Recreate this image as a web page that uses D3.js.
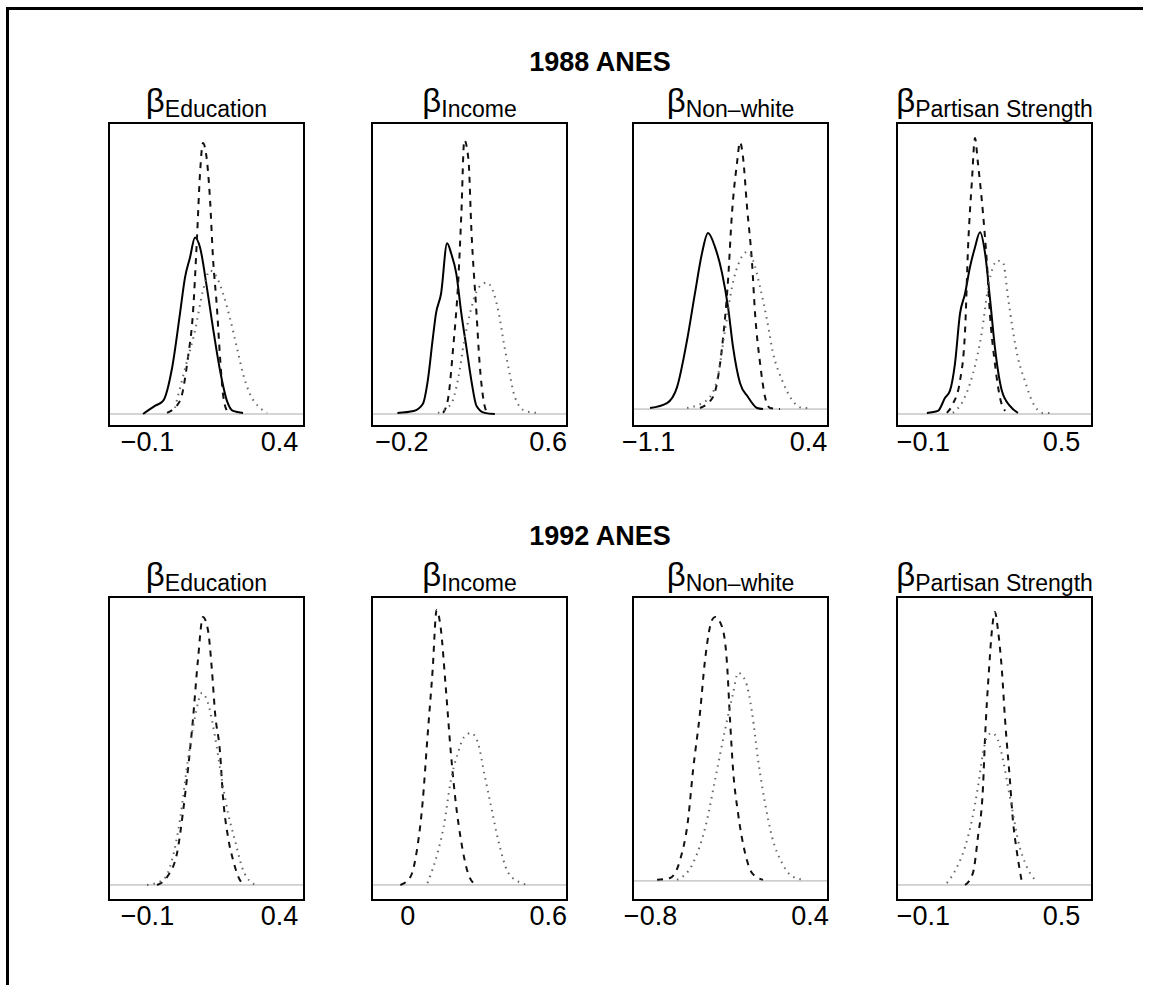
<!DOCTYPE html>
<html>
<head>
<meta charset="utf-8">
<script src="https://cdn.jsdelivr.net/npm/d3@7"></script>
<style>
  body { margin: 0; background: #fff; }
  svg text { font-family: "Liberation Sans", Arial, Helvetica, sans-serif; fill: #000; }
</style>
</head>
<body>
<svg id="chart" width="1154" height="985"></svg>
<script>
// Survey headings and coefficient names.
var surveys = ["1988 ANES", "1992 ANES"];
var coefficients = ["Education", "Income", "Non\u2013white", "Partisan Strength"];

// Axis labels and x limits, row by row (1988 then 1992).
var tickValues = [[-0.1, 0.4], [-0.2, 0.6], [-1.1, 0.4], [-0.1, 0.5],
                  [-0.1, 0.4], [0, 0.6], [-0.8, 0.4], [-0.1, 0.5]];
var xLimits = [[-0.244, 0.495], [-0.361, 0.706], [-1.241, 0.587], [-0.213, 0.635],
               [-0.244, 0.495], [-0.151, 0.682], [-0.928, 0.539], [-0.213, 0.635]];
// Lower y limit (density is scaled so each panel's upper limit is 1).
var yFloors = [0, 0, -0.018, 0, -0.011, -0.011, -0.026, -0.011];

// Posterior densities, [beta, density].
var edu88Solid = [[-0.115, 0], [-0.070, 0.029], [-0.039, 0.047], [-0.005, 0.165], [0.025, 0.360],
  [0.044, 0.489], [0.063, 0.561], [0.082, 0.633], [0.101, 0.597], [0.127, 0.453], [0.150, 0.309],
  [0.177, 0.155], [0.203, 0.047], [0.226, 0.011], [0.264, 0.004]];
var edu88Dashed = [[-0.024, 0.004], [0.025, 0.047], [0.055, 0.201], [0.074, 0.360], [0.089, 0.622],
  [0.101, 0.863], [0.112, 0.971], [0.127, 0.910], [0.139, 0.766], [0.150, 0.561], [0.165, 0.381],
  [0.177, 0.201], [0.188, 0.072], [0.203, 0.011]];
var edu88Dotted = [[0.006, 0.022], [0.052, 0.191], [0.082, 0.299], [0.112, 0.442], [0.139, 0.514],
  [0.165, 0.489], [0.188, 0.432], [0.214, 0.345], [0.241, 0.237], [0.264, 0.144], [0.290, 0.072],
  [0.328, 0.022], [0.355, 0.004]];

var inc88Solid = [[-0.222, 0.004], [-0.133, 0.011], [-0.083, 0.036], [-0.056, 0.119], [-0.028, 0.273],
  [-0.011, 0.360], [0.017, 0.432], [0.050, 0.612], [0.072, 0.576], [0.100, 0.504], [0.128, 0.360],
  [0.156, 0.237], [0.183, 0.119], [0.211, 0.029], [0.256, 0.004], [0.311, 0]];
var inc88Dashed = [[0.028, 0.004], [0.056, 0.058], [0.083, 0.237], [0.111, 0.478], [0.128, 0.719],
  [0.144, 0.982], [0.167, 0.910], [0.183, 0.658], [0.211, 0.360], [0.228, 0.180], [0.250, 0.047],
  [0.267, 0.004]];
var inc88Dotted = [[0.000, 0.004], [0.072, 0.036], [0.111, 0.129], [0.144, 0.263], [0.183, 0.381],
  [0.222, 0.453], [0.267, 0.471], [0.306, 0.432], [0.333, 0.360], [0.361, 0.252], [0.389, 0.155],
  [0.422, 0.058], [0.478, 0.011], [0.544, 0.004]];

var nw88Solid = [[-1.081, 0.004], [-0.922, 0.022], [-0.828, 0.080], [-0.734, 0.252], [-0.660, 0.423],
  [-0.594, 0.569], [-0.538, 0.642], [-0.472, 0.591], [-0.406, 0.496], [-0.350, 0.372], [-0.303, 0.226],
  [-0.238, 0.095], [-0.163, 0.044], [-0.078, 0.004], [-0.022, 0]];
var nw88Dashed = [[-0.613, 0.004], [-0.491, 0.044], [-0.406, 0.226], [-0.350, 0.471], [-0.313, 0.715],
  [-0.266, 0.898], [-0.238, 0.974], [-0.210, 0.920], [-0.172, 0.737], [-0.125, 0.533], [-0.097, 0.350],
  [-0.050, 0.168], [-0.003, 0.044], [0.043, 0.004], [0.137, 0]];
var nw88Dotted = [[-0.734, 0.004], [-0.547, 0.033], [-0.453, 0.106], [-0.378, 0.288], [-0.313, 0.445],
  [-0.238, 0.543], [-0.172, 0.573], [-0.116, 0.543], [-0.050, 0.445], [0.015, 0.325], [0.072, 0.204],
  [0.156, 0.106], [0.250, 0.033], [0.353, 0.004], [0.437, 0.004]];

var ps88Solid = [[-0.083, 0.004], [-0.035, 0.011], [-0.004, 0.058], [0.017, 0.083], [0.039, 0.180],
  [0.061, 0.360], [0.083, 0.432], [0.104, 0.525], [0.126, 0.597], [0.148, 0.651], [0.170, 0.576],
  [0.191, 0.417], [0.213, 0.237], [0.243, 0.083], [0.278, 0.029], [0.313, 0.004]];
var ps88Dashed = [[0.004, 0.004], [0.030, 0.036], [0.061, 0.119], [0.083, 0.299], [0.096, 0.597],
  [0.113, 0.838], [0.126, 0.989], [0.139, 0.899], [0.161, 0.719], [0.178, 0.540], [0.191, 0.360],
  [0.213, 0.180], [0.235, 0.058], [0.257, 0.011]];
var ps88Dotted = [[0.030, 0.004], [0.074, 0.047], [0.117, 0.144], [0.157, 0.299], [0.183, 0.453],
  [0.204, 0.525], [0.222, 0.550], [0.248, 0.543], [0.270, 0.417], [0.291, 0.299], [0.313, 0.201],
  [0.343, 0.119], [0.374, 0.047], [0.422, 0.004], [0.465, 0.004]];

var edu92Dashed = [[-0.062, 0], [-0.024, 0.029], [0.014, 0.116], [0.036, 0.261], [0.055, 0.417],
  [0.074, 0.598], [0.093, 0.815], [0.112, 0.971], [0.131, 0.924], [0.146, 0.779], [0.158, 0.623],
  [0.177, 0.478], [0.188, 0.319], [0.207, 0.174], [0.226, 0.091], [0.252, 0.018], [0.264, 0.004]];
var edu92Dotted = [[-0.100, 0], [-0.039, 0.018], [-0.005, 0.091], [0.025, 0.236], [0.055, 0.453],
  [0.082, 0.609], [0.108, 0.696], [0.131, 0.659], [0.158, 0.536], [0.184, 0.380], [0.207, 0.261],
  [0.233, 0.163], [0.260, 0.065], [0.298, 0.007], [0.317, 0]];

var inc92Dashed = [[-0.030, 0], [0.013, 0.029], [0.043, 0.138], [0.065, 0.297], [0.086, 0.536],
  [0.108, 0.779], [0.125, 0.996], [0.142, 0.935], [0.164, 0.717], [0.186, 0.478], [0.207, 0.297],
  [0.229, 0.163], [0.259, 0.043], [0.285, 0.004]];
var inc92Dotted = [[0.086, 0.007], [0.129, 0.116], [0.155, 0.210], [0.186, 0.380], [0.216, 0.478],
  [0.242, 0.536], [0.272, 0.551], [0.302, 0.514], [0.328, 0.406], [0.358, 0.283], [0.388, 0.163],
  [0.432, 0.043], [0.488, 0.007], [0.518, 0]];

var nw92Dashed = [[-0.747, 0.004], [-0.650, 0.011], [-0.574, 0.077], [-0.514, 0.224], [-0.476, 0.408],
  [-0.424, 0.618], [-0.386, 0.813], [-0.333, 0.960], [-0.311, 0.971], [-0.258, 0.934], [-0.221, 0.801],
  [-0.198, 0.592], [-0.175, 0.408], [-0.138, 0.250], [-0.085, 0.103], [-0.032, 0.029], [0.050, 0.004]];
var nw92Dotted = [[-0.597, 0.004], [-0.476, 0.066], [-0.371, 0.224], [-0.311, 0.371], [-0.236, 0.555],
  [-0.175, 0.691], [-0.138, 0.765], [-0.085, 0.739], [-0.032, 0.618], [0.013, 0.445], [0.065, 0.287],
  [0.118, 0.162], [0.193, 0.066], [0.276, 0.015], [0.366, 0.004]];

var ps92Dashed = [[0.083, 0], [0.117, 0.043], [0.139, 0.174], [0.161, 0.355], [0.170, 0.536],
  [0.187, 0.779], [0.200, 0.924], [0.213, 0.989], [0.226, 0.924], [0.243, 0.779], [0.257, 0.598],
  [0.278, 0.380], [0.291, 0.236], [0.309, 0.116], [0.330, 0.011]];
var ps92Dotted = [[0.004, 0.007], [0.048, 0.065], [0.083, 0.138], [0.113, 0.236], [0.139, 0.355],
  [0.161, 0.478], [0.178, 0.536], [0.200, 0.551], [0.226, 0.525], [0.248, 0.453], [0.270, 0.355],
  [0.291, 0.261], [0.313, 0.163], [0.352, 0.065], [0.396, 0.011]];

// Curves of each panel, in the same order as tickValues.
var panelCurves = [
  [["solid", edu88Solid], ["dashed", edu88Dashed], ["dotted", edu88Dotted]],
  [["solid", inc88Solid], ["dashed", inc88Dashed], ["dotted", inc88Dotted]],
  [["solid", nw88Solid], ["dashed", nw88Dashed], ["dotted", nw88Dotted]],
  [["solid", ps88Solid], ["dashed", ps88Dashed], ["dotted", ps88Dotted]],
  [["dashed", edu92Dashed], ["dotted", edu92Dotted]],
  [["dashed", inc92Dashed], ["dotted", inc92Dotted]],
  [["dashed", nw92Dashed], ["dotted", nw92Dotted]],
  [["dashed", ps92Dashed], ["dotted", ps92Dotted]]
];

// Layout.
var boxLefts = [109, 372, 633, 897];
var boxTops = [123, 597];
var boxWidth = 195;
var boxHeight = 303;
var pad = 12;

var lineStyles = {
  solid: { stroke: "#000", width: 2, dash: null },
  dashed: { stroke: "#111", width: 2, dash: "6,6" },
  dotted: { stroke: "#666", width: 2, dash: "1.5,5" }
};

var svg = d3.select("#chart");

// Frame round the figure.
svg.append("path")
  .attr("d", "M7.5,985 L7.5,8.5 L1143,8.5")
  .attr("fill", "none")
  .attr("stroke", "#000")
  .attr("stroke-width", 3);

// Survey headings.
svg.selectAll("text.survey")
  .data(surveys)
  .enter()
  .append("text")
  .attr("class", "survey")
  .attr("x", 600)
  .attr("y", function (d, i) { return boxTops[i] - 52; })
  .attr("text-anchor", "middle")
  .attr("font-size", 27)
  .attr("font-weight", "bold")
  .text(function (d) { return d; });

panelCurves.forEach(function (curves, p) {
  var row = Math.floor(p / 4);
  var col = p % 4;
  var left = boxLefts[col];
  var top = boxTops[row];

  var x = d3.scaleLinear()
    .domain(xLimits[p])
    .range([left, left + boxWidth]);
  var y = d3.scaleLinear()
    .domain([yFloors[p], 1])
    .range([top + boxHeight - pad, top + pad]);

  var g = svg.append("g").attr("class", "panel");

  // Zero line.
  g.append("line")
    .attr("x1", left)
    .attr("x2", left + boxWidth)
    .attr("y1", y(0))
    .attr("y2", y(0))
    .attr("stroke", "#aaa")
    .attr("stroke-width", 1);

  var line = d3.line()
    .x(function (d) { return x(d[0]); })
    .y(function (d) { return y(d[1]); })
    .curve(d3.curveMonotoneX);

  curves.forEach(function (c) {
    var style = lineStyles[c[0]];
    g.append("path")
      .datum(c[1])
      .attr("d", line)
      .attr("fill", "none")
      .attr("stroke", style.stroke)
      .attr("stroke-width", style.width)
      .attr("stroke-dasharray", style.dash);
  });

  // Box.
  g.append("rect")
    .attr("x", left)
    .attr("y", top)
    .attr("width", boxWidth)
    .attr("height", boxHeight)
    .attr("fill", "none")
    .attr("stroke", "#000")
    .attr("stroke-width", 2);

  // Axis labels only, no tick marks.
  var axis = g.append("g")
    .attr("transform", "translate(0," + (top + boxHeight) + ")")
    .call(d3.axisBottom(x).tickValues(tickValues[p]).tickSize(0).tickPadding(6)
      .tickFormat(d3.format("")));
  axis.select(".domain").remove();
  axis.selectAll("text")
    .attr("font-size", 27)
    .attr("font-family", "Liberation Sans, Arial, sans-serif")
    .attr("fill", "#000");

  // Title: beta with the coefficient as subscript.
  var title = g.append("text")
    .attr("x", left + boxWidth / 2)
    .attr("y", top - 11)
    .attr("text-anchor", "middle");
  title.append("tspan")
    .attr("font-size", 33)
    .text("\u03b2");
  title.append("tspan")
    .attr("font-size", 23)
    .attr("dy", 5)
    .text(coefficients[col]);
});
</script>
</body>
</html>
